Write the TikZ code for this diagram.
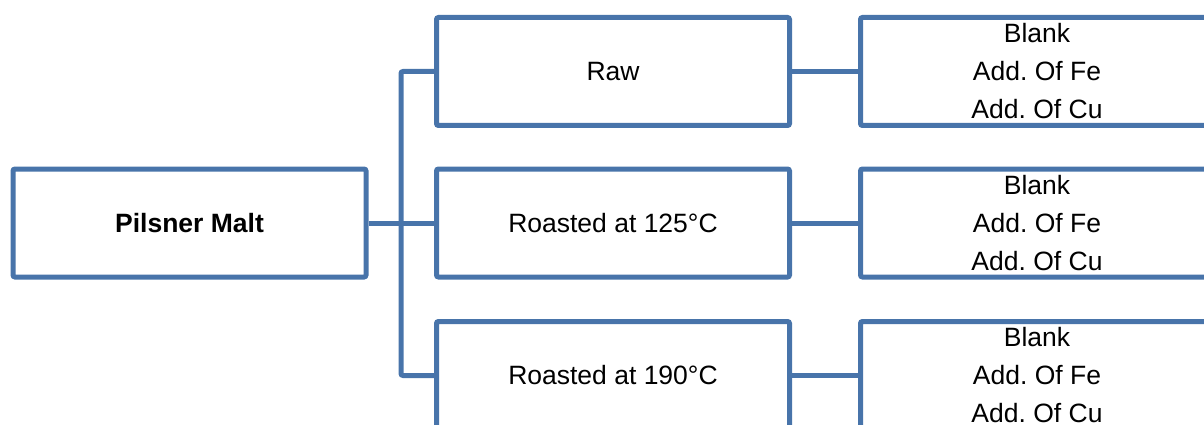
\documentclass[tikz,border=0pt]{standalone}
\usepackage{fontspec}
\setmainfont{Liberation Sans}
\frenchspacing
\definecolor{boxblue}{RGB}{72,116,170}
\begin{document}
\begin{tikzpicture}[x=1pt,y=-1pt,
  box/.style={draw=boxblue, line width=5pt, rounded corners=2pt, rectangle,
    minimum width=353pt, minimum height=108pt, inner sep=0pt, fill=white,
    font=\fontsize{26.5}{38}\selectfont, align=center, text=black},
  conn/.style={draw=boxblue, line width=5pt, rounded corners=2pt}]
\useasboundingbox (0,0) rectangle (1204,425);
\clip (0,0) rectangle (1204,425);
\coordinate (bt) at (401,71.5);
\coordinate (bb) at (401,375.5);
\node[box] (pm) at (189.5,223) {\textbf{Pilsner Malt}};
\node[box] (m1) at (613,71.5) {Raw};
\node[box] (m2) at (613,223) {Roasted at 125°C};
\node[box] (m3) at (613,375.5) {Roasted at 190°C};
\node[box] (r1) at (1037,71.5) {Blank\\Add. Of Fe\\Add. Of Cu};
\node[box] (r2) at (1037,223) {Blank\\Add. Of Fe\\Add. Of Cu};
\node[box] (r3) at (1037,375.5) {Blank\\Add. Of Fe\\Add. Of Cu};
\draw[conn] (m1.west) -- (bt) -- (bb) -- (m3.west);
\draw[conn] (pm.east) -- (m2.west);
\draw[conn] (m1.east) -- (r1.west);
\draw[conn] (m2.east) -- (r2.west);
\draw[conn] (m3.east) -- (r3.west);
\end{tikzpicture}
\end{document}
